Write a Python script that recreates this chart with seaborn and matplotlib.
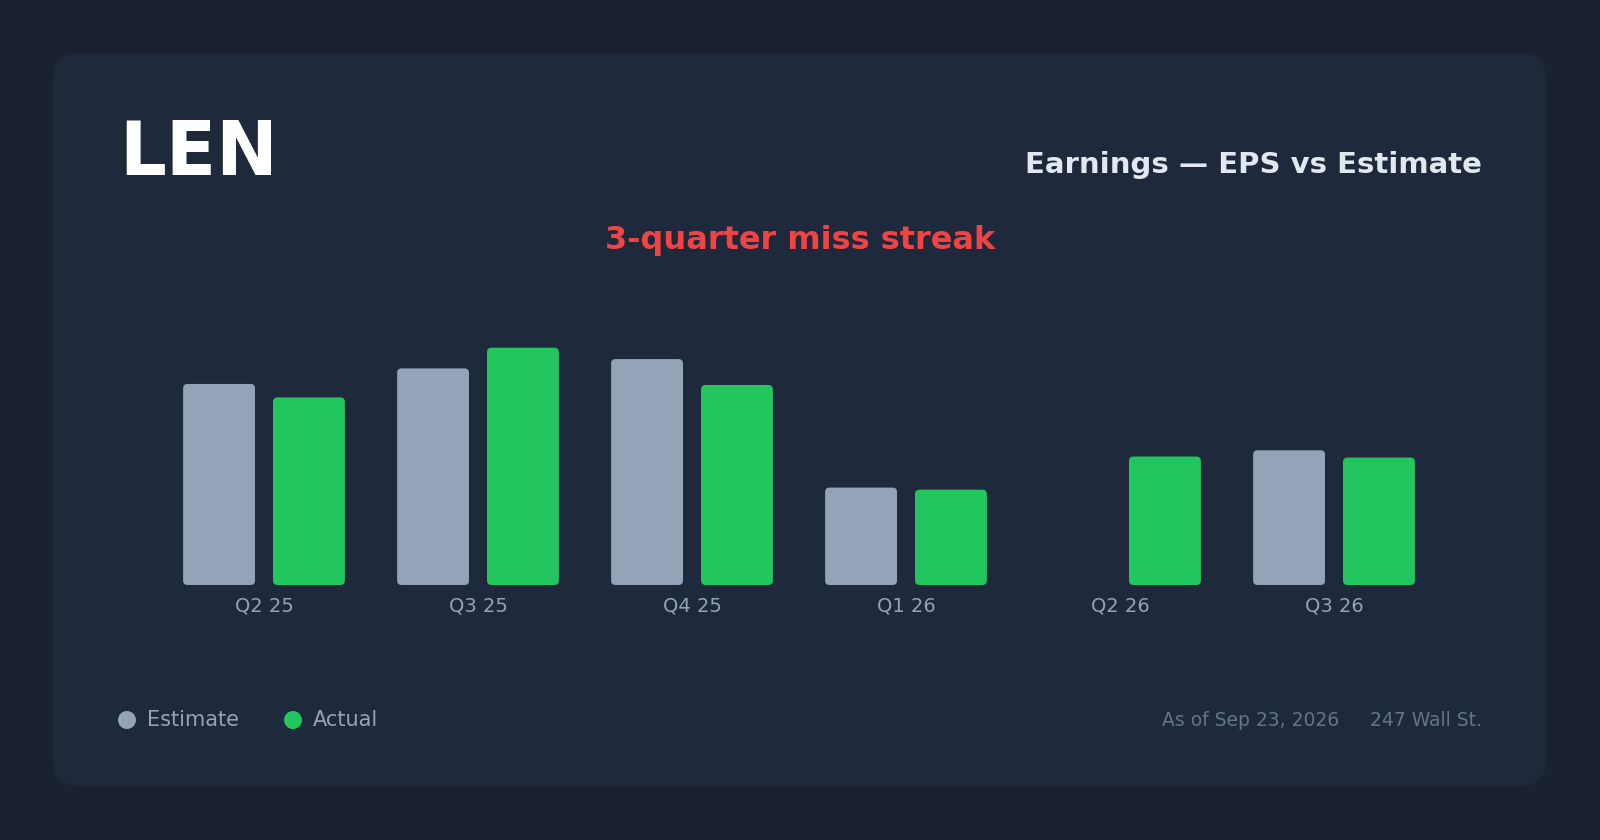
import numpy as np
import pandas as pd
import matplotlib
matplotlib.use('Agg')
import matplotlib.pyplot as plt
from matplotlib.patches import FancyBboxPatch, Circle
import seaborn as sns

# data
quarters = ['Q2 25', 'Q3 25', 'Q4 25', 'Q1 26', 'Q2 26', 'Q3 26']
estimate = [1.94, 2.09, 2.18, 0.94, np.nan, 1.30]
actual = [1.81, 2.29, 1.93, 0.92, 1.24, 1.23]
series_names = ['Estimate', 'Actual']

ticker = 'LEN'
title = 'Earnings — EPS vs Estimate'
subtitle = '3-quarter miss streak'
footer_date = 'As of Sep 23, 2026'
footer_src = '247 Wall St.'

# colours
BG = '#1a2230'
CARD = '#1e293b'
EST_C = '#94a3b8'
ACT_C = '#22c55e'

df = pd.DataFrame({'quarter': quarters * 2,
                   'series': ['Estimate'] * len(quarters) + ['Actual'] * len(quarters),
                   'eps': estimate + actual})

sns.set_style('white')
plt.rcParams['font.family'] = ['DejaVu Sans']

W, H = 1600, 840
fig = plt.figure(figsize=(W / 100, H / 100), dpi=100)
fig.patch.set_facecolor(BG)

# background / card axes in pixel units
bg = fig.add_axes([0, 0, 1, 1])
bg.set_xlim(0, W)
bg.set_ylim(H, 0)
bg.axis('off')
bg.add_patch(FancyBboxPatch((53, 53), 1493, 733, boxstyle='round,pad=0,rounding_size=26',
                            facecolor=CARD, edgecolor='none'))

bg.text(119, 175, ticker, color='white', fontsize=53, fontweight='bold', ha='left', va='baseline')
bg.text(1482, 173, title, color='#e2e8f0', fontsize=21, fontweight='bold', ha='right', va='baseline')
bg.text(800, 249, subtitle, color='#ef4444', fontsize=23, fontweight='bold', ha='center', va='baseline')

# legend
for x, name, col in [(127, 'Estimate', EST_C), (293, 'Actual', ACT_C)]:
    bg.add_patch(Circle((x, 720), 9, facecolor=col, edgecolor='none'))
    bg.text(x + 20, 720, name, color=EST_C, fontsize=15, ha='left', va='center')

bg.text(1339, 720, footer_date, color='#64748b', fontsize=13.5, ha='right', va='center')
bg.text(1482, 720, footer_src, color='#64748b', fontsize=13.5, ha='right', va='center')

# chart axes
ax_left, ax_right = 157, 1441
ax_bottom, ax_top = 585, 300
ax = fig.add_axes([ax_left / W, 1 - ax_bottom / H, (ax_right - ax_left) / W, (ax_bottom - ax_top) / H])
ax.patch.set_alpha(0)

sns.barplot(data=df, x='quarter', y='eps', hue='series', order=quarters,
            hue_order=series_names, palette=[EST_C, ACT_C], saturation=1,
            width=0.84, gap=0.2, legend=False, ax=ax)

ax.set_xlim(-0.5, len(quarters) - 0.5)
ax.set_ylim(0, 2.75)

# rounded bar tops
px_x = (ax_right - ax_left) / (len(quarters))
px_y = (ax_bottom - ax_top) / 2.75
r = 4.5 / px_x
for p in list(ax.patches):
    h = p.get_height()
    if np.isnan(h) or h == 0:
        p.remove()
        continue
    rb = FancyBboxPatch((p.get_x(), p.get_y()), p.get_width(), h,
                        boxstyle=f'round,pad=0,rounding_size={r}',
                        mutation_aspect=px_x / px_y,
                        facecolor=p.get_facecolor(), edgecolor='none')
    p.remove()
    ax.add_patch(rb)

ax.set_xlabel('')
ax.set_ylabel('')
ax.set_yticks([])
ax.tick_params(axis='x', length=0, pad=8, labelsize=14, labelcolor=EST_C)
sns.despine(ax=ax, left=True, bottom=True)

fig.savefig('out.png', dpi=100, facecolor=BG)
